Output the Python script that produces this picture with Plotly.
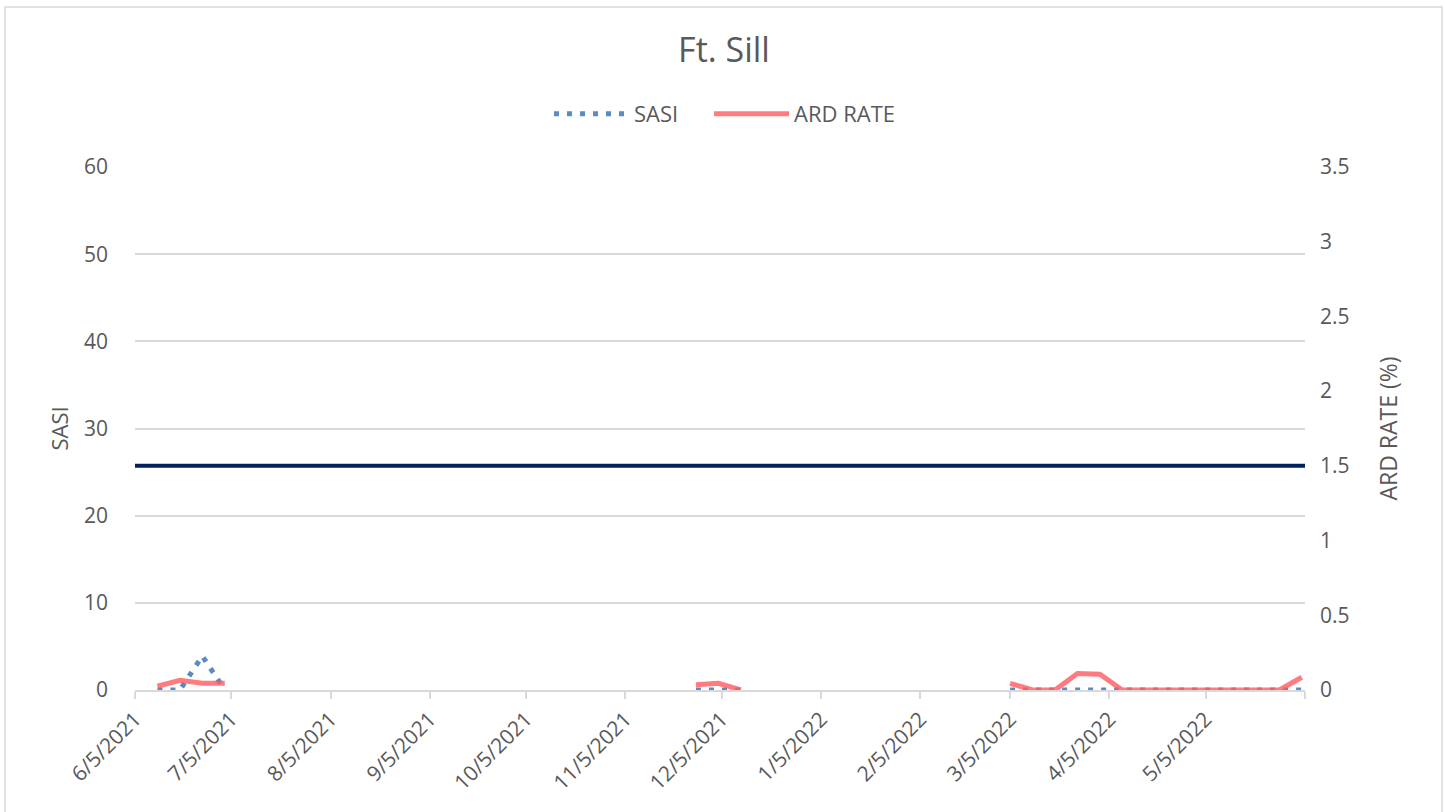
import pandas as pd
import plotly.graph_objects as go

# Weekly reporting dates (week ending Saturday)
week_ending = pd.date_range("2021-06-12", "2022-06-04", freq="7D")

# SASI values (None = no report that week)
sasi = ([0, 0, 3.9, 0] + [None] * 20 + [0, 0, 0] + [None] * 11 +
        [0, 0, 0, 0, 0, 0, 0, 0, 0, 0, 0, 0, 0, 0])

# ARD rate (%) values
ard_rate = ([0.025, 0.065, 0.045, 0.045] + [None] * 20 + [0.035, 0.045, 0.0] + [None] * 11 +
            [0.045, 0, 0, 0.11, 0.105, 0, 0, 0, 0, 0, 0, 0, 0, 0.085])

# Threshold line (ARD rate %)
threshold_dates = ["2021-06-05", "2022-06-05"]
threshold_value = [1.5, 1.5]

# Axis ticks
x_tickvals = ["2021-06-05", "2021-07-05", "2021-08-05", "2021-09-05", "2021-10-05",
              "2021-11-05", "2021-12-05", "2022-01-05", "2022-02-05", "2022-03-05",
              "2022-04-05", "2022-05-05", "2022-06-05"]
x_ticktext = ["6/5/2021", "7/5/2021", "8/5/2021", "9/5/2021", "10/5/2021", "11/5/2021",
              "12/5/2021", "1/5/2022", "2/5/2022", "3/5/2022", "4/5/2022", "5/5/2022", ""]

FONT = "Open Sans"
GREY = "#595959"
GRID = "#d9d9d9"

W, H = 1445, 812
L, R, T, B = 135, 140, 167, 122
PW = W - L - R
PH = H - T - B

fig = go.Figure()

fig.add_trace(go.Scatter(
    x=threshold_dates, y=threshold_value, yaxis="y2", mode="lines",
    line=dict(color="#002060", width=4), showlegend=False, hoverinfo="skip"))

fig.add_trace(go.Scatter(
    x=week_ending, y=ard_rate, yaxis="y2", mode="lines", name="ARD RATE",
    line=dict(color="#ff5b60", width=5), opacity=0.8, connectgaps=False,
    legend="legend2"))

fig.add_trace(go.Scatter(
    x=week_ending, y=sasi, yaxis="y", mode="lines", name="SASI",
    line=dict(color="#4a7ebb", width=5, dash="5px,8px"), connectgaps=False,
    opacity=0.9, legend="legend"))

legend_common = dict(orientation="h", xanchor="left", y=(H - B - 114) / PH, yanchor="middle",
                     font=dict(size=22, color=GREY), itemwidth=75,
                     bgcolor="rgba(0,0,0,0)")

fig.update_layout(
    width=W, height=H,
    paper_bgcolor="white", plot_bgcolor="white",
    margin=dict(l=L, r=R, t=T, b=B),
    font=dict(family=FONT, color=GREY, size=21),
    title=dict(text="Ft. Sill", x=(724 - L) / PW, xref="paper", xanchor="center",
               y=1 - 50 / H, yanchor="middle",
               yref="container", font=dict(size=34, color=GREY, family=FONT)),
    legend=dict(x=(549 - L) / PW, **legend_common),
    legend2=dict(x=(709 - L) / PW, **legend_common),
    xaxis=dict(
        type="date", range=["2021-06-05", "2022-06-05"],
        tickmode="array", tickvals=x_tickvals, ticktext=x_ticktext, tickangle=-45,
        showgrid=False, showline=True, linecolor=GRID, linewidth=1.5,
        ticks="outside", ticklen=7, tickcolor=GRID, tickwidth=1.5,
        tickfont=dict(size=21, color=GREY), zeroline=False),
    yaxis=dict(
        range=[0, 60], dtick=10, showgrid=True, gridcolor=GRID, gridwidth=1.5,
        zeroline=False, showline=False, ticks="", ticklabelstandoff=26,
        tickfont=dict(size=21, color=GREY),
        title=dict(text="SASI", font=dict(size=22, color=GREY), standoff=9)),
    yaxis2=dict(
        range=[0, 3.5], dtick=0.5, overlaying="y", side="right", showgrid=False,
        zeroline=False, showline=False, ticks="", ticklabelstandoff=14,
        tickfont=dict(size=21, color=GREY),
        title=dict(text="ARD RATE (%)", font=dict(size=23, color=GREY), standoff=32)),
    shapes=[dict(type="rect", xref="paper", yref="paper",
                 x0=(5 - L) / PW, x1=(1442 - L) / PW,
                 y0=(H - B - 830) / PH, y1=(H - B - 7) / PH,
                 line=dict(color=GRID, width=1.5), fillcolor="rgba(0,0,0,0)", layer="below")],
)

fig.write_html("out.html", config={"displayModeBar": False},
               post_script="document.body.style.margin='0';")
